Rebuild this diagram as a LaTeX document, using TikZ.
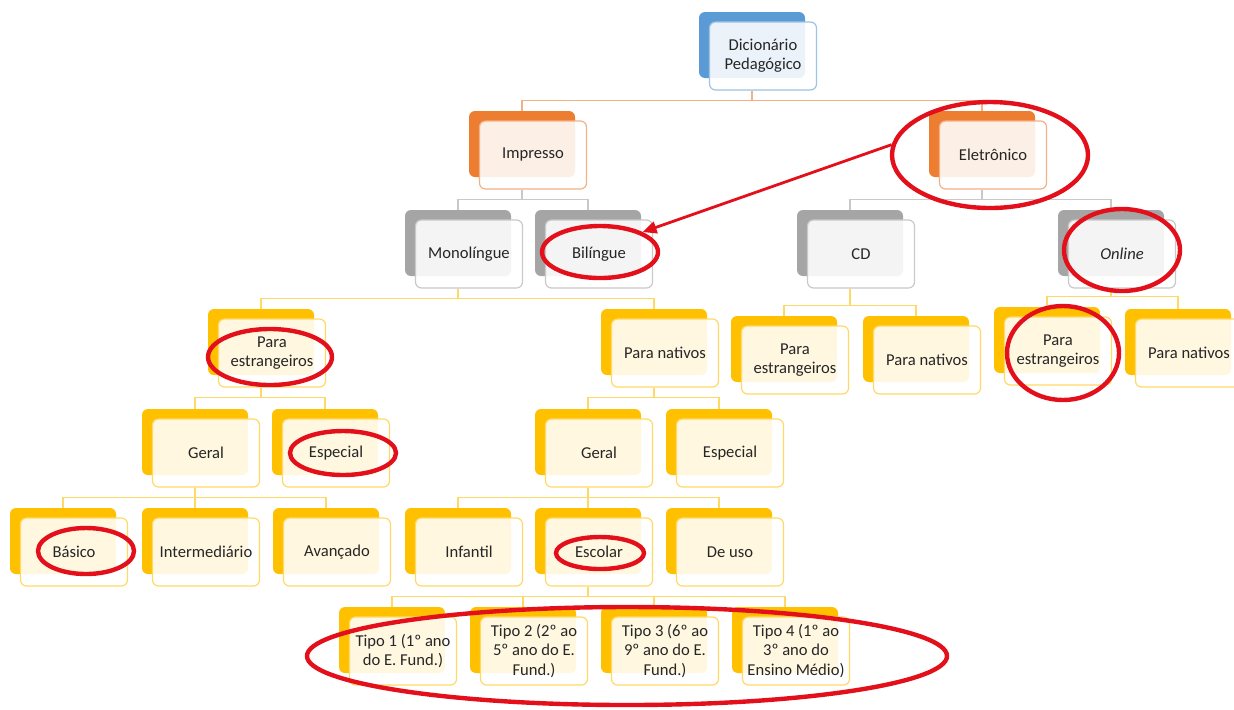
\documentclass[tikz,border=0pt]{standalone}
\usepackage{fontspec}
\setmainfont{Carlito}
\usetikzlibrary{shapes.geometric,arrows.meta}

\definecolor{blueback}{HTML}{5B9BD5}
\definecolor{blueedge}{HTML}{9DC3E6}
\definecolor{orangeback}{HTML}{ED7D31}
\definecolor{orangeedge}{HTML}{F4B183}
\definecolor{greyback}{HTML}{A5A5A5}
\definecolor{greyedge}{HTML}{C9C9C9}
\definecolor{goldback}{HTML}{FFC000}
\definecolor{goldedge}{HTML}{FFD966}
\definecolor{markred}{HTML}{E3101B}
\definecolor{labeltext}{HTML}{262626}

\tikzset{
  backbox/.style={rectangle, rounded corners=3pt, fill=#1back, minimum width=53pt,
    minimum height=33pt, inner sep=0pt},
  frontbox/.style={rectangle, rounded corners=3pt, draw=#1edge, line width=0.6pt,
    fill=white, fill opacity=0.88, text opacity=1, minimum width=53.5pt,
    minimum height=34pt, inner sep=1pt, align=center, text=labeltext,
    font=\fontsize{8.3}{9.6}\selectfont},
  link/.style={draw=#1edge, line width=0.75pt},
  ring/.style={ellipse, draw=markred, line width=2.2pt, inner sep=0pt},
}

% coloured plate with the labelled card laid over it
\newcommand{\levelbox}[4]{%
  \node[backbox=#3] (#1) at (#2) {};
  \node[frontbox=#3] (#1-f) at ([shift={(11,11)}]#1) {#4};
}

\begin{document}
\begin{tikzpicture}[x=0.5pt,y=-0.5pt]
\fill[white] (0,0) rectangle (1234,709);
\useasboundingbox (0,0) rectangle (1234,709);

% top levels
\levelbox{dic}{752,45}{blue}{Dicionário\\Pedagógico}
\levelbox{imp}{522,144}{orange}{Impresso}
\levelbox{ele}{982,144}{orange}{Eletrônico}
\levelbox{mono}{458,243}{grey}{Monolíngue}
\levelbox{bil}{588,243}{grey}{Bilíngue}
\levelbox{cd}{850,243}{grey}{CD}
\levelbox{onl}{1111,243}{grey}{\textit{Online}}

% public
\levelbox{pe1}{261,342}{gold}{Para\\estrangeiros}
\levelbox{pn1}{654,342}{gold}{Para nativos}
\levelbox{pe2}{784,349}{gold}{Para\\estrangeiros}
\levelbox{pn2}{916,349}{gold}{Para nativos}
\levelbox{pe3}{1047,340}{gold}{Para\\estrangeiros}
\levelbox{pn3}{1178,342}{gold}{Para nativos}

\levelbox{ger1}{195,442}{gold}{Geral}
\levelbox{esp1}{325,442}{gold}{Especial}
\levelbox{ger2}{588,442}{gold}{Geral}
\levelbox{esp2}{719,442}{gold}{Especial}

\levelbox{bas}{63,541}{gold}{Básico}
\levelbox{int}{195,541}{gold}{Intermediário}
\levelbox{ava}{326,541}{gold}{Avançado}
\levelbox{inf}{458,541}{gold}{Infantil}
\levelbox{esc}{588,541}{gold}{Escolar}
\levelbox{deu}{719,541}{gold}{De uso}

\levelbox{t1}{392,640}{gold}{Tipo 1 (1º ano\\do E. Fund.)}
\levelbox{t2}{523,640}{gold}{Tipo 2 (2º ao\\5º ano do E.\\Fund.)}
\levelbox{t3}{654,640}{gold}{Tipo 3 (6º ao\\9º ano do E.\\Fund.)}
\levelbox{t4}{785,640}{gold}{Tipo 4 (1º ao\\3º ano do\\Ensino Médio)}

% connectors
\foreach \p/\kids/\col/\d in {dic/{imp,ele}/orange/10, imp/{mono,bil}/grey/10,
    ele/{cd,onl}/grey/10, mono/{pe1,pn1}/gold/10, cd/{pe2,pn2}/gold/17,
    onl/{pe3,pn3}/gold/8, pe1/{ger1,esp1}/gold/10, pn1/{ger2,esp2}/gold/10,
    ger1/{bas,int,ava}/gold/10, ger2/{inf,esc,deu}/gold/10,
    esc/{t1,t2,t3,t4}/gold/10}
  \foreach \c in \kids
    \draw[link=\col] (\p.south |- \p-f.south) -- ++(0,\d) -| (\c.north);

% red marks
\node[ring, minimum width=98pt, minimum height=53pt] (ringEle) at (990,155) {};
\node[ring, minimum width=58pt, minimum height=26pt] (ringBil) at (600,252) {};
\node[ring, minimum width=58pt, minimum height=41pt] (ringOnl) at (1122,250) {};
\node[ring, minimum width=62pt, minimum height=28pt] (ringPe1) at (270,357) {};
\node[ring, minimum width=53pt, minimum height=22pt] (ringEsp) at (343,453) {};
\node[ring, minimum width=56pt, minimum height=47pt] (ringPe3) at (1063,353) {};
\node[ring, minimum width=48pt, minimum height=23pt] (ringBas) at (86,551) {};
\node[ring, minimum width=44pt, minimum height=16pt] (ringEsc) at (600,553) {};
\node[ring, minimum width=320pt, minimum height=49pt] (ringTipo) at (627,656) {};

\draw[markred, line width=1.4pt, -{Triangle[length=7pt,width=6pt]}]
  (ringEle.174) -- (ringBil.north east);
\end{tikzpicture}
\end{document}
